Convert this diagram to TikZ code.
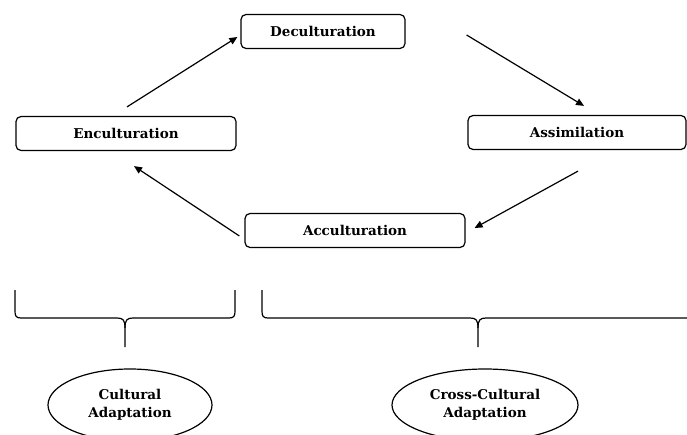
\documentclass[tikz,border=0pt]{standalone}
\usepackage{fontspec}
\setmainfont{DejaVu Serif}
\usetikzlibrary{calc,shapes.geometric,arrows.meta}
\begin{document}
\begin{tikzpicture}[x=1pt,y=-1pt,
  stagebox/.style={draw,rounded corners=5pt,line width=1.2pt,minimum height=34pt,inner sep=0pt,font=\bfseries\fontsize{13.5}{15}\selectfont},
  adapt/.style={draw,ellipse,line width=1.2pt,inner sep=0pt,align=center,font=\bfseries\fontsize{13.5}{18}\selectfont},
  flow/.style={-{Triangle[length=8pt,width=7pt]},line width=1.2pt},
  bracepath/.style={line width=1.2pt}]
\useasboundingbox (0,0) rectangle (687,435);
\node[stagebox,minimum width=164pt] (dec) at (323,31.5) {Deculturation};
\node[stagebox,minimum width=220pt] (enc) at (126,133.5) {Enculturation};
\node[stagebox,minimum width=218pt] (ass) at (577,132.5) {Assimilation};
\node[stagebox,minimum width=220pt] (acc) at (355,230.5) {Acculturation};
\draw[flow] ($(enc.north)+(1,-9)$) -- ($(dec.west)+(-3,5.5)$);
\draw[flow] ($(dec.east)+(61,3.5)$) -- ($(ass.north)+(7,-9)$);
\draw[flow] ($(ass.south)+(1,21)$) -- ($(acc.east)+(9,-2.5)$);
\draw[flow] ($(acc.west)+(-5,5.5)$) -- ($(enc.south)+(8,15)$);
% braces
\draw[bracepath] (15,290) -- (15,311) .. controls (15,316) and (16,318) .. (21,318) -- (117,318)
  .. controls (123,318) and (125,320) .. (125,328) -- (125,347);
\draw[bracepath] (235,290) -- (235,311) .. controls (235,316) and (234,318) .. (229,318) -- (133,318)
  .. controls (127,318) and (125,320) .. (125,328);
\draw[bracepath] (262,290) -- (262,311) .. controls (262,316) and (263,318) .. (268,318) -- (470,318)
  .. controls (476,318) and (478,320) .. (478,328) -- (478,347);
\draw[bracepath] (690,318) -- (486,318)
  .. controls (480,318) and (478,320) .. (478,328);
\node[adapt,minimum width=164pt,minimum height=72pt] (cult) at (130,405) {Cultural\\Adaptation};
\node[adapt,minimum width=186pt,minimum height=72pt] (cross) at (485,405) {Cross-Cultural\\Adaptation};
\end{tikzpicture}
\end{document}
